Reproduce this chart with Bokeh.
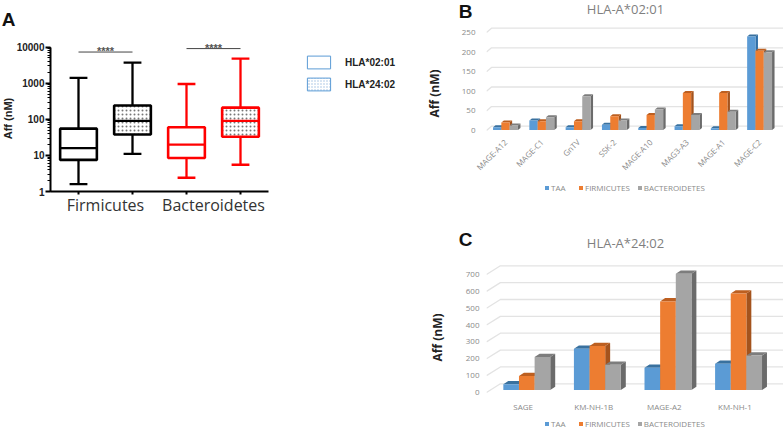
from math import pi
from bokeh.plotting import figure
from bokeh.layouts import row, column
from bokeh.models import (Range1d, LinearAxis, FixedTicker, Legend, LegendItem,
                          NumeralTickFormatter, LogTicker, ColumnDataSource)
from bokeh.core.properties import value
from bokeh.embed import file_html
from bokeh.resources import INLINE

# ---- data -------------------------------------------------------------
groups_a = ["Firmicutes", "Bacteroidetes"]
box_low = [1.6, 11, 2.4, 5.5]
box_q1 = [7.5, 38, 8.5, 33]
box_med = [16, 90, 20, 90]
box_q3 = [55, 240, 60, 210]
box_high = [1400, 3700, 950, 4800]
box_color = ["#000000", "#000000", "#ff0000", "#ff0000"]
hla_labels = ["HLA*02:01", "HLA*24:02"]
sig_marks = ["****", "****"]
sig_level = [7300, 9100]

series = ["TAA", "FIRMICUTES", "BACTEROIDETES"]
front = ["#5b9bd5", "#ed7d31", "#a5a5a5"]
side = ["#2f6ea6", "#a4531d", "#6b6b6b"]
top_c = ["#39719f", "#bd5f20", "#7d7d7d"]

b_cats = ["MAGE-A12", "MAGE-C1", "GnTV", "SSK-2", "MAGE-A10", "MAG3-A3", "MAGE-A1", "MAGE-C2"]
b_taa = [7, 24, 7, 13, 5, 9, 4, 238]
b_firm = [19, 22, 22, 35, 38, 94, 94, 202]
b_bact = [11, 32, 86, 24, 52, 38, 46, 198]
b_ticks = [0, 50, 100, 150, 200, 250]

c_cats = ["SAGE", "KM-NH-1B", "MAGE-A2", "KM-NH-1"]
c_taa = [34, 245, 132, 156]
c_firm = [83, 261, 526, 573]
c_bact = [196, 150, 690, 205]
c_ticks = [0, 100, 200, 300, 400, 500, 600, 700]

GRID = "#e3e3e3"
TXT = "#8a8a8a"

# ---- panel A ----------------------------------------------------------
A_SCALE, A_BOT, A_X0, A_STEP = 36.1, 191, 78, 54
xA = lambda px: 1 + (px - A_X0) / A_STEP
yA = lambda px: 10 ** ((A_BOT - px) / A_SCALE)

pA = figure(width=420, height=240, x_range=Range1d(xA(50), xA(420)), y_range=Range1d(1, yA(0)),
            y_axis_type="log", output_backend="svg", toolbar_location=None,
            min_border_left=50, min_border_right=0, min_border_top=0, min_border_bottom=49,
            outline_line_color=None, background_fill_color=None, border_fill_color=None)
pA.grid.visible = False
yax = pA.yaxis[0]
yax.bounds = (1, 10000)
yax.ticker = LogTicker(num_minor_ticks=10)
yax.formatter = NumeralTickFormatter(format="0")
yax.axis_line_width = 2
yax.major_tick_line_width = 2
yax.minor_tick_line_width = 1
yax.major_tick_in = 0
yax.major_tick_out = 5
yax.minor_tick_in = 0
yax.minor_tick_out = 3
yax.major_label_text_font = "Liberation Sans"
yax.major_label_text_font_style = "bold"
yax.major_label_text_font_size = "10px"
yax.major_label_text_color = "#222222"
yax.major_label_standoff = 1

pos = [1, 2, 3, 4]
xax = pA.xaxis[0]
xax.bounds = (xA(50), xA(268))
xax.ticker = FixedTicker(ticks=pos)
xax.axis_line_width = 2
xax.major_tick_line_width = 2
xax.major_tick_in = 0
xax.major_tick_out = 3
xax.minor_tick_line_color = None
xax.major_label_text_color = None
xax.major_label_text_font_size = "1px"
xax.major_label_standoff = 0
xax2 = LinearAxis(ticker=FixedTicker(ticks=[1.5, 3.5]),
                  major_label_overrides={1.5: groups_a[0], 3.5: groups_a[1]},
                  axis_line_color=None, major_tick_line_color=None, minor_tick_line_color=None,
                  major_tick_out=0, major_tick_in=0,
                  major_label_text_font="Open Sans", major_label_text_font_size="16px",
                  major_label_text_color="#333333", major_label_standoff=-1)
pA.add_layout(xax2, "below")

src = ColumnDataSource(dict(x=pos, low=box_low, q1=box_q1, med=box_med, q3=box_q3, high=box_high, c=box_color))
pA.segment("x", "low", "x", "q1", source=src, line_color="c", line_width=2.3)
pA.segment("x", "q3", "x", "high", source=src, line_color="c", line_width=2.3)
cap_l = [p - 0.165 for p in pos]
cap_r = [p + 0.165 for p in pos]
pA.segment(cap_l, box_low, cap_r, box_low, line_color=box_color, line_width=2.3)
pA.segment(cap_l, box_high, cap_r, box_high, line_color=box_color, line_width=2.3)
for i, c in enumerate(box_color):
    kw = dict(hatch_pattern="dot", hatch_color="#777777", hatch_scale=4, hatch_weight=0.6) if i % 2 else {}
    pA.vbar(x=[pos[i]], bottom=[box_q1[i]], top=[box_q3[i]], width=0.68, fill_color="white",
            line_color=c, line_width=2.6, **kw)
pA.segment([p - 0.34 for p in pos], box_med, [p + 0.34 for p in pos], box_med, line_color=box_color, line_width=2.2)

sx0 = [1, 3]
sx1 = [2, 4]
pA.segment(sx0, sig_level, sx1, sig_level, line_color="#444444", line_width=1)
pA.text([1.5, 3.5], sig_level, text=sig_marks, text_font_size="11px", text_align="center",
        text_baseline="bottom", text_color="#555555", text_font_style="bold", y_offset=5)

nan = float("nan")
r1 = pA.quad(left=[nan], right=[nan], top=[nan], bottom=[nan], fill_color="white", line_color="#5b9bd5")
r2 = pA.quad(left=[nan], right=[nan], top=[nan], bottom=[nan], fill_color="white", line_color="#5b9bd5",
             hatch_pattern="dot", hatch_color="#9dbde0", hatch_scale=3, hatch_weight=0.7)
legA = Legend(items=[LegendItem(label=hla_labels[0], renderers=[r1]), LegendItem(label=hla_labels[1], renderers=[r2])],
              location=(254, 99), glyph_width=29, glyph_height=16, spacing=6, label_standoff=12, padding=0, margin=0,
              border_line_color=None, background_fill_color=None, background_fill_alpha=0,
              label_text_font="Liberation Sans", label_text_font_style="bold", label_text_font_size="10px",
              label_text_color="#222222", label_height=16)
pA.add_layout(legA)


# ---- panels B and C ----------------------------------------------------
def bars(cats, data, ticks, W, H, left, bottom, scale, y0, x0, step, bar_px, off_px,
         base_px, depth, wall, label_angle, y_standoff, x_standoff):
    X = lambda px: (px - x0) / step
    Y = lambda py: (y0 - py) / scale
    p = figure(width=W, height=H, x_range=Range1d(X(420 + left), X(420 + W)), y_range=Range1d(Y(H - bottom), Y(0)),
               output_backend="svg", toolbar_location=None,
               min_border_left=left, min_border_right=0, min_border_top=0, min_border_bottom=bottom,
               outline_line_color=None, background_fill_color=None, border_fill_color=None)
    p.grid.visible = False
    ya, xa = p.yaxis[0], p.xaxis[0]
    ya.ticker = FixedTicker(ticks=ticks)
    xa.ticker = FixedTicker(ticks=list(range(len(cats))))
    xa.major_label_overrides = {i: c for i, c in enumerate(cats)}
    for ax in (xa, ya):
        ax.axis_line_color = None
        ax.major_tick_line_color = None
        ax.minor_tick_line_color = None
        ax.major_tick_out = 0
        ax.major_tick_in = 0
        ax.major_label_text_font = "Open Sans"
        ax.major_label_text_font_size = "8px"
        ax.major_label_text_color = TXT
    ya.major_label_standoff = y_standoff
    xa.major_label_standoff = x_standoff
    if label_angle:
        xa.major_label_orientation = label_angle

    wdx, wdy = wall[0] / step, wall[1] / scale
    xa0 = X(420 + left)
    xe = X(420 + W)
    p.multi_line([[xa0, xa0 + wdx, xe] for _ in ticks],
                 [[t, t + wdy, t + wdy] for t in ticks], line_color=GRID, line_width=1.3)

    bw = bar_px / step
    ddx, ddy = depth[0] / step, depth[1] / scale
    base = base_px / scale
    for s, vals in enumerate(data):
        cx = [i + off_px / step + (s - 1) * bw for i in range(len(cats))]
        bot = [base] * len(vals)
        tp = [v + base for v in vals]
        p.patches([[c + bw / 2, c + bw / 2 + ddx, c + bw / 2 + ddx, c + bw / 2] for c in cx],
                  [[b, b + ddy, t + ddy, t] for b, t in zip(bot, tp)], fill_color=side[s], line_color=None)
        p.patches([[c - bw / 2, c - bw / 2 + ddx, c + bw / 2 + ddx, c + bw / 2] for c in cx],
                  [[t, t + ddy, t + ddy, t] for t in tp], fill_color=top_c[s], line_color=None)
        p.vbar(x=cx, bottom=bot, top=tp, width=bw, fill_color=front[s], line_color=None)
    return p


pB = bars(b_cats, [b_taa, b_firm, b_bact], b_ticks, 363, 225, 66, 88, 0.392, 130, 505, 36.3,
          8.3, 0, 0.6, (2.5, 2), (5, 4.3), pi / 4, 11, 3)
pC = bars(c_cats, [c_taa, c_firm, c_bact], c_ticks, 363, 204, 63, 31, 0.1686, 167, 520, 71.3,
          15.8, 3.7, 2.4, (5, 3.3), (14, 8.7), 0, 7, 2)

# ---- page-wide layer: panel letters, titles, side labels, bar legends ---
ov = figure(width=783, height=429, x_range=Range1d(0, 783), y_range=Range1d(429, 0),
            output_backend="svg", toolbar_location=None, min_border=0, x_axis_location=None, y_axis_location=None,
            outline_line_color=None, background_fill_color=None, border_fill_color=None,
            margin=(-429, 0, 0, 0))
ov.grid.visible = False


def note(text, x, y, size, color="#222222", font="Liberation Sans", style="bold", angle=0):
    ov.text([x], [y], text=[text], text_font=value(font), text_font_size=size, text_color=color,
            text_font_style=style, angle=angle, text_align="center", text_baseline="middle")


note("A", 8, 19, "19px", color="#111111")
note("B", 465, 10.5, "19px", color="#111111")
note("C", 465, 238.5, "19px", color="#111111")
note("Aff (nM)", 7, 118, "11px", angle=pi / 2)
note("Aff (nM)", 434, 93, "12px", font="Open Sans", angle=pi / 2)
note("Aff (nM)", 437, 337, "12px", font="Open Sans", angle=pi / 2)
note("HLA-A*02:01", 625, 8, "13px", color="#7f7f7f", font="Open Sans", style="normal")
note("HLA-A*24:02", 625, 242, "13px", color="#7f7f7f", font="Open Sans", style="normal")

swatches = [ov.quad(left=[nan], right=[nan], top=[nan], bottom=[nan], fill_color=c, line_color=None) for c in front]
for loc in [(544, 236), (544, 0)]:
    ov.add_layout(Legend(items=[LegendItem(label=n, renderers=[r]) for n, r in zip(series, swatches)],
                         location=loc, orientation="horizontal", glyph_width=5, glyph_height=5, label_height=8,
                         spacing=7, label_standoff=2, padding=0, margin=0, border_line_color=None,
                         background_fill_color=None, background_fill_alpha=0, label_text_font="Open Sans",
                         label_text_font_size="8px", label_text_color=TXT))

page = column(row(pA, column(pB, pC, spacing=0), spacing=0), ov, spacing=0)
open("out.html", "w").write(file_html(page, INLINE))
